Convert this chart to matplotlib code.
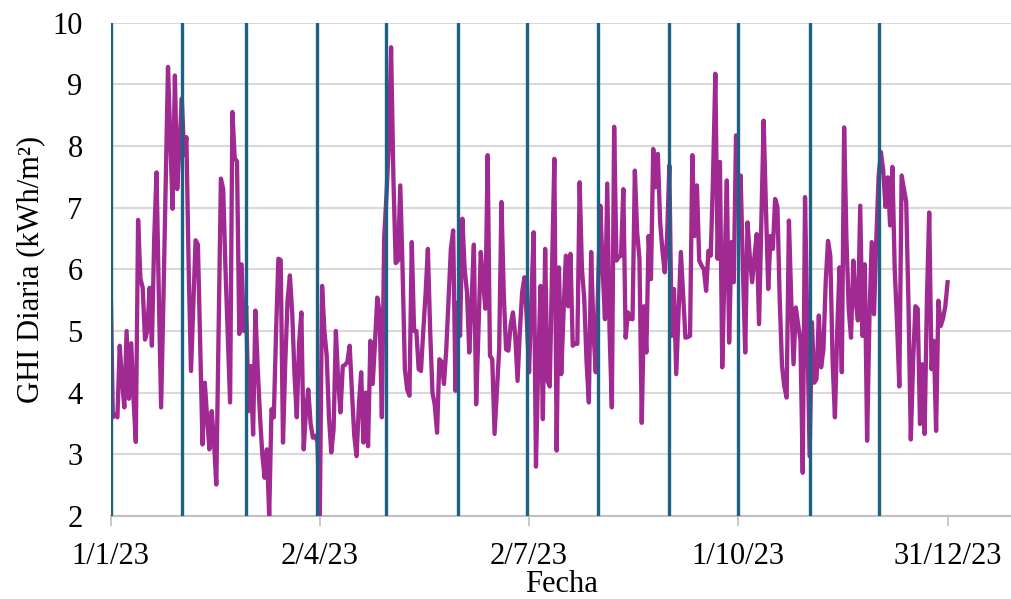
import numpy as np
import pandas as pd
import matplotlib
matplotlib.use('Agg')
import matplotlib.pyplot as plt

# GHI diaria (kWh/m2) por mes, 2023
ene = [5.9, 3.6, 3.65, 3.6, 4.76, 4.2, 3.76, 5.0, 3.9, 4.8, 3.9, 3.2, 6.8, 5.85, 5.7, 4.86,
       5.0, 5.7, 4.76, 6.5, 7.57, 5.6, 3.76, 5.5, 7.4, 9.28, 8.1, 6.98, 9.14, 7.3, 8.0]
feb = [8.77, 7.85, 8.14, 6.0, 4.35, 5.4, 6.47, 6.4, 4.8, 3.16, 4.16, 3.6, 3.08, 3.7, 3.2,
       2.51, 5.0, 7.47, 7.3, 6.0, 4.9, 3.84, 8.55, 7.8, 7.75, 4.95, 6.08, 5.0]
mar = [5.4, 3.7, 4.43, 3.32, 5.33, 4.4, 3.62, 3.0, 2.62, 3.08, 2.0, 3.73, 3.6, 5.0, 6.17, 6.15,
       3.19, 4.5, 5.5, 5.9, 5.3, 4.3, 3.6, 4.8, 5.3, 3.08, 3.7, 4.05, 3.5, 3.27, 3.3]
abr = [3.2, 1.95, 5.73, 5.0, 4.6, 3.6, 3.03, 3.4, 5.0, 4.2, 3.68, 4.43, 4.45, 4.5, 4.76,
       4.0, 3.3, 2.97, 3.8, 4.33, 3.19, 4.0, 3.13, 4.84, 4.14, 4.8, 5.54, 5.3, 3.6, 6.52]
may = [7.2, 8.0, 9.6, 7.5, 6.1, 6.14, 7.36, 6.0, 4.38, 4.05, 3.95, 6.44, 5.0, 5.0, 4.38, 4.35,
       5.0, 5.6, 6.33, 5.0, 4.0, 3.8, 3.35, 4.54, 4.5, 4.14, 4.7, 5.5, 6.33, 6.63, 4.03]
jun = [5.46, 4.92, 6.82, 6.0, 5.63, 4.65, 5.5, 6.4, 3.81, 5.0, 6.28, 5.8, 5.36, 7.85, 4.6,
       4.54, 3.33, 4.0, 4.7, 7.09, 5.6, 4.7, 4.68, 5.1, 5.3, 4.92, 4.19, 5.0, 5.63, 5.87]
jul = [5.2, 4.33, 5.5, 6.6, 2.8, 4.5, 5.73, 3.57, 6.33, 4.19, 4.1, 6.0, 7.79, 3.06, 6.03, 4.3,
       5.3, 6.22, 5.4, 6.25, 4.76, 4.8, 4.79, 7.41, 6.0, 5.52, 4.5, 3.84, 6.28, 5.0, 4.33]
ago = [5.7, 7.03, 6.0, 5.19, 7.39, 5.0, 3.76, 8.31, 6.14, 6.2, 6.22, 7.3, 4.89, 5.3, 5.2, 5.19,
       7.6, 6.6, 6.17, 3.51, 5.4, 4.65, 6.54, 5.84, 7.95, 7.33, 7.87, 6.76, 6.3, 5.95, 6.5]
sep = [7.68, 4.92, 5.68, 4.3, 5.3, 6.28, 5.6, 4.89, 4.9, 4.92, 7.85, 6.54, 7.36, 6.14, 6.06,
       6.0, 5.65, 6.3, 6.22, 7.5, 9.17, 6.17, 7.74, 4.41, 6.0, 7.44, 4.81, 6.44, 5.79, 8.17]
oct_ = [7.0, 7.52, 6.0, 4.65, 6.76, 6.2, 5.79, 6.2, 6.57, 5.11, 6.8, 8.41, 7.0, 5.68, 6.54, 6.33,
        7.14, 7.01, 5.5, 4.43, 4.1, 3.92, 6.79, 5.5, 4.46, 5.38, 5.1, 4.86, 2.7, 7.17, 5.0]
nov = [2.97, 5.14, 4.16, 4.22, 5.25, 4.41, 4.7, 5.8, 6.46, 6.22, 4.5, 3.6, 5.0, 6.03, 4.33,
       8.3, 6.5, 5.36, 4.89, 6.14, 5.5, 5.17, 7.03, 4.92, 6.08, 3.22, 5.2, 6.44, 5.27, 6.5]
dic = [7.5, 7.9, 7.6, 7.01, 7.49, 6.71, 7.66, 6.0, 5.14, 4.1, 7.52, 7.3, 7.09, 5.4, 3.24, 4.5,
       5.4, 5.36, 3.49, 4.46, 3.33, 5.5, 6.92, 4.38, 4.84, 3.38, 5.49, 5.08, 5.2, 5.4, 5.79]

tick_fechas = ['2023-01-01', '2023-04-02', '2023-07-02', '2023-10-01', '2023-12-31']
tick_labels = ['1/1/23', '2/4/23', '2/7/23', '1/10/23', '31/12/23']

ghi = ene + feb + mar + abr + may + jun + jul + ago + sep + oct_ + nov + dic
fechas = pd.date_range('2023-01-01', '2023-12-31', freq='D')
inicio_mes = pd.date_range('2023-01-01', '2023-12-01', freq='MS')

plt.rcParams['font.family'] = ['Liberation Serif', 'DejaVu Serif']

fig = plt.figure(figsize=(10.12, 5.99), dpi=100)
ax = fig.add_axes([0.1092, 0.1386, 0.8908, 0.8238])

ax.plot(fechas, ghi, color='#a02a91', lw=3.1, solid_joinstyle='round', zorder=3)
for f in inicio_mes:
    ax.axvline(f, color='#1b6283', lw=2.4, zorder=4)

ax.set_xlim(pd.Timestamp('2023-01-01'), pd.Timestamp('2023-01-01') + pd.Timedelta(days=392))
ax.set_ylim(2, 10)
ax.set_yticks(range(2, 11))
ax.set_xticks(pd.to_datetime(tick_fechas))
ax.set_xticklabels(tick_labels)

ax.grid(axis='y', color='#d9d9d9', lw=1.5, zorder=0)
ax.set_axisbelow(True)
for s in ['top', 'right']:
    ax.spines[s].set_visible(False)
ax.spines['left'].set_color('#d9d9d9')
ax.spines['bottom'].set_color('#bfbfbf')
ax.spines['bottom'].set_linewidth(1.5)

ax.tick_params(axis='y', length=0, pad=20, labelsize=22)
ax.tick_params(axis='x', length=7, width=1.2, color='#bfbfbf', pad=12, labelsize=22)

ax.set_xlabel('Fecha', fontsize=22, labelpad=-1)
ax.set_ylabel('GHI Diaria (kWh/m²)', fontsize=22)
ax.yaxis.set_label_coords(-0.072, 0.5)

plt.savefig('out.png', dpi=100)
